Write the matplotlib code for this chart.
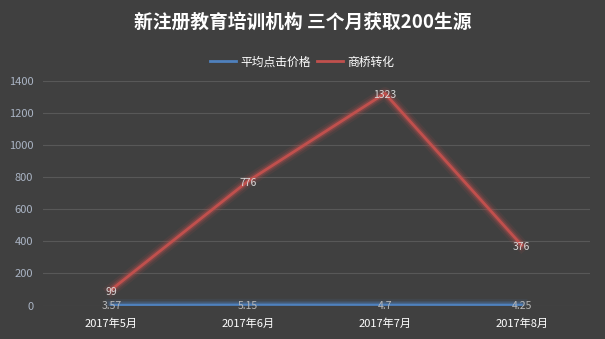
import matplotlib
matplotlib.use("Agg")
import matplotlib.pyplot as plt
import matplotlib.patheffects as pe

plt.rcParams['font.family'] = ['Noto Sans CJK SC', 'DejaVu Sans']

# 数据
months = ['2017年5月', '2017年6月', '2017年7月', '2017年8月']
avg_click_price = [3.57, 5.15, 4.7, 4.25]
shangqiao = [99, 776, 1323, 376]
y_ticks = [0, 200, 400, 600, 800, 1000, 1200, 1400]

BG = '#404040'
BLUE = '#4f81bd'
RED = '#c0504d'

fig = plt.figure(figsize=(6.05, 3.39), dpi=100, facecolor=BG)
ax = fig.add_axes([43 / 605, 1 - 305.5 / 339, (590 - 43) / 605, (305.5 - 81) / 339])
ax.set_facecolor(BG)

x = list(range(len(months)))

def glow(color, w):
    return [pe.Stroke(linewidth=w + 7, foreground=color, alpha=0.1),
            pe.Stroke(linewidth=w + 4, foreground=color, alpha=0.18),
            pe.Stroke(linewidth=w + 2, foreground=color, alpha=0.3),
            pe.Normal()]

ax.plot(x, avg_click_price, color=BLUE, lw=1.5, path_effects=glow(BLUE, 1.5), zorder=3,
        label='平均点击价格')
ax.plot(x, shangqiao, color=RED, lw=2, path_effects=glow(RED, 2), zorder=4,
        label='商桥转化')

for xi, v in zip(x, avg_click_price):
    ax.annotate(f'{v:g}', (xi, v), xytext=(0, -1), textcoords='offset points',
                ha='center', va='center', fontsize=7.5, color='#b8b8b8', zorder=5)
for xi, v in zip(x, shangqiao):
    ax.annotate(f'{v:g}', (xi, v), xytext=(0, -1.5), textcoords='offset points',
                ha='center', va='center', fontsize=7.5, color='#d8d8d8', zorder=5)

ax.set_xlim(-0.5, len(months) - 0.5)
ax.set_ylim(0, 1400)
ax.set_yticks(y_ticks)
ax.set_xticks(x)
ax.set_xticklabels(months, color='white', fontsize=8)
ax.tick_params(axis='y', labelsize=8, length=0, pad=7)
ax.tick_params(axis='x', length=0, pad=9)
for lbl in ax.get_yticklabels():
    lbl.set_color('#aab4c4')
ax.grid(axis='y', color='#585858', lw=0.8)
ax.set_axisbelow(True)
for s in ax.spines.values():
    s.set_visible(False)

fig.text(0.5, 1 - 22 / 339, '新注册教育培训机构 三个月获取200生源', ha='center', va='center',
         fontsize=13.5, fontweight='bold', color='white')

leg = fig.legend(loc='center', bbox_to_anchor=(302 / 605, 1 - 62 / 339), ncol=2, frameon=False,
                 fontsize=8.5, labelcolor='white', handlelength=2.2, handletextpad=0.4,
                 columnspacing=0.5)
for h in leg.legend_handles:
    h.set_path_effects([])
    h.set_linewidth(2)

fig.savefig('out.png', dpi=100, facecolor=BG)
